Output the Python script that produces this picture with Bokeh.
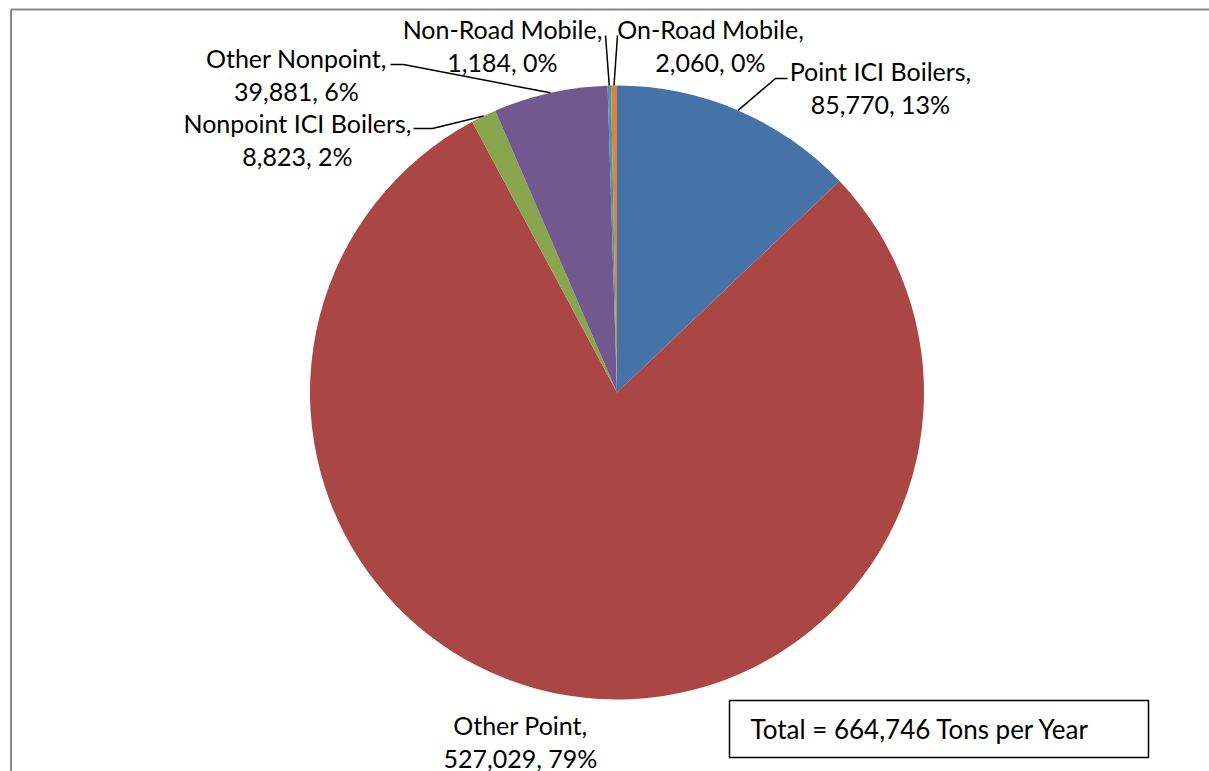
import numpy as np
from bokeh.plotting import figure
from bokeh.models import Range1d
from bokeh.core.properties import value
from bokeh.embed import file_html
from bokeh.resources import INLINE

# ---- data ----
categories = ["Point ICI Boilers", "Other Point", "Nonpoint ICI Boilers",
              "Other Nonpoint", "Non-Road Mobile", "On-Road Mobile"]
tons = [85770, 527029, 8823, 39881, 1184, 2060]
percent_labels = [13, 79, 2, 6, 0, 0]
colors = ["#4572A7", "#AA4643", "#89A54E", "#71588F", "#4198AF", "#DB843D"]
total_text = "Total = 664,746 Tons per Year"

# ---- layout (pixel-space helpers) ----
W, H = 1209, 771
OFF = 0
def X(px): return px - OFF
def Y(py): return H - (py - OFF)

cx, cy, R = X(616.5), Y(392), 307
FONT = value("Lato")

p = figure(width=W, height=H, output_backend="svg", toolbar_location=None,
           x_range=Range1d(0, W), y_range=Range1d(0, H), min_border=0)
p.axis.visible = False
p.grid.visible = False
p.outline_line_color = None
p.background_fill_color = "white"
p.border_fill_color = "white"

# outer chart frame (left and top edges visible)
p.segment(x0=[X(10.5), X(10.5)], y0=[Y(9), Y(9)], x1=[X(10.5), X(W + 20)],
          y1=[Y(H + 20), Y(9)], line_color="#878787", line_width=2)

vals = np.array(tons, dtype=float)
frac = vals / vals.sum()
cum = np.concatenate([[0.0], np.cumsum(frac)])
start = np.pi / 2 - 2 * np.pi * cum[:-1]
end = np.pi / 2 - 2 * np.pi * cum[1:]
mid = (start + end) / 2

p.wedge(x=cx, y=cy, radius=R, start_angle=list(start), end_angle=list(end),
        direction="clock", fill_color=colors, line_color=None)

# labels
label_x = [880, 520, 297, 296, 502, 710]
label_y = [70, 724, 122, 57, 28, 28]
gap = 33
line1 = [f"{c}," for c in categories]
line2 = [f"{v:,}, {pc}%" for v, pc in zip(tons, percent_labels)]
p.text(x=[X(v) for v in label_x], y=[Y(v) for v in label_y], text=line1,
       text_font=FONT, text_font_size="25px", text_align="center",
       text_baseline="middle", text_color="black")
p.text(x=[X(v) for v in label_x], y=[Y(v + gap) for v in label_y], text=line2,
       text_font=FONT, text_font_size="25px", text_align="center",
       text_baseline="middle", text_color="black")

# leader lines: elbow points (layout) then slice edge midpoint (from data)
elbows = {
    0: [(787, 78), (775, 78)],
    2: [(413, 128), (432, 128)],
    3: [(390, 64), (403, 64)],
    4: [(605, 35)],
    5: [(617, 35)],
}
xs, ys = [], []
for i, pts in elbows.items():
    ex = cx + R * np.cos(mid[i])
    ey = cy + R * np.sin(mid[i])
    xs.append([X(a) for a, b in pts] + [ex])
    ys.append([Y(b) for a, b in pts] + [ey])
p.multi_line(xs=xs, ys=ys, line_color="black", line_width=1.5)

# total box
p.quad(left=[X(729)], right=[X(1148)], top=[Y(700)], bottom=[Y(757)],
       fill_color="white", line_color="black", line_width=1.5)
p.text(x=[X(750)], y=[Y(728)], text=[total_text], text_font=FONT,
       text_font_size="26px", text_align="left", text_baseline="middle",
       text_color="black")

open("out.html", "w").write(file_html(p, INLINE))
